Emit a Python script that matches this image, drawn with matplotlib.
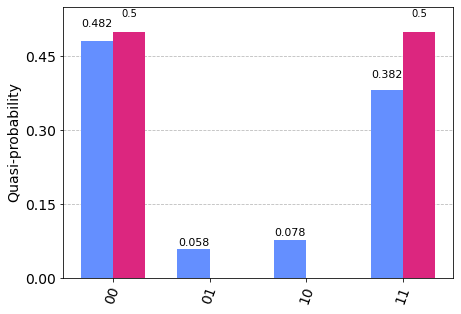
import matplotlib
matplotlib.use("Agg")
import matplotlib.pyplot as plt
import numpy as np

states = ["00", "01", "10", "11"]
series_a = [0.482, 0.058, 0.078, 0.382]
series_b = [0.5, 0.0, 0.0, 0.5]
colors = ["#648fff", "#dc267f"]
yticks = [0.0, 0.15, 0.30, 0.45]

fig = plt.figure(figsize=(461/72, 314/72), dpi=72)
ax = fig.add_axes([63/461, 36/314, 390/461, 271/314])

x = np.arange(len(states))
w = 1/3
ba = ax.bar(x - w/2, series_a, width=w, color=colors[0], zorder=2)
bb = ax.bar(x + w/2, series_b, width=w, color=colors[1], zorder=2)

for rect, v in zip(ba, series_a):
    if v > 0:
        ax.text(rect.get_x() + rect.get_width()/2, 1.05*v, f"{v:g}",
                ha="center", va="bottom", fontsize=11, zorder=3)
for rect, v in zip(bb, series_b):
    if v > 0:
        ax.text(rect.get_x() + rect.get_width()/2, 1.05*v, f"{v:g}",
                ha="center", va="bottom", fontsize=10, zorder=3)

ax.set_xlim(-0.515, 3.515)
ax.set_ylim(0, 0.55)
ax.set_xticks(x)
ax.set_xticklabels(states, rotation=70, fontsize=14)
ax.set_yticks(yticks)
ax.set_yticklabels([f"{t:.2f}" for t in yticks], fontsize=14)
ax.set_ylabel("Quasi-probability", fontsize=14)
ax.grid(axis="y", linestyle="--", color="#bbbbbb", linewidth=0.8, zorder=0)
ax.set_axisbelow(True)

fig.savefig("out.png", dpi=72)
